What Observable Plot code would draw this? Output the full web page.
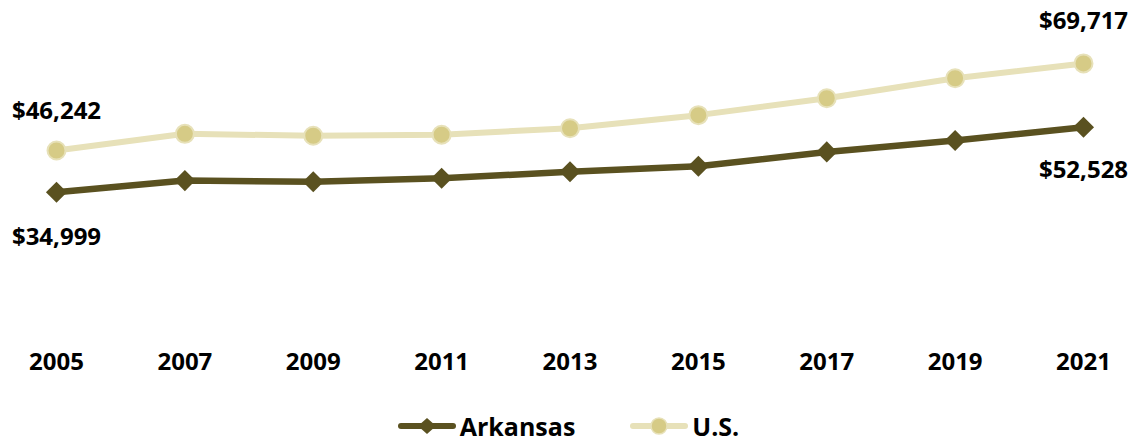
<!DOCTYPE html>
<html>
<head>
<meta charset="utf-8">
<script src="https://cdn.jsdelivr.net/npm/d3@7"></script>
<script src="https://cdn.jsdelivr.net/npm/@observablehq/plot@0.6"></script>
<style>
  html, body { margin: 0; padding: 0; background: #fff; }
  body { width: 1137px; height: 441px; overflow: hidden; font-family: "Open Sans", sans-serif; }
  #legend { position: absolute; top: 412px; left: 0; width: 1137px; display: flex; justify-content: center; gap: 55px; font-weight: 700; font-size: 25px; color: #000; line-height: 28px; }
  .item { display: flex; align-items: center; gap: 4px; }
</style>
</head>
<body>
<div id="chart"></div>
<div id="legend"></div>
<script>
const years = [2005, 2007, 2009, 2011, 2013, 2015, 2017, 2019, 2021];
const arkansas = [34999, 38134, 37823, 38758, 40511, 41995, 45869, 48952, 52528];
const us = [46242, 50740, 50221, 50502, 52250, 55775, 60336, 65712, 69717];
const seriesNames = ["Arkansas", "U.S."];

const arkColor = "#5A5120";
const usLine = "#E7E1B9";
const usFill = "#D6CB86";

const arkData = years.map((y, i) => ({year: y, value: arkansas[i]}));
const usData = years.map((y, i) => ({year: y, value: us[i]}));
const fmt = v => "$" + d3.format(",")(v);

const lblStyle = {fontSize: 24, fontWeight: 700, fill: "#000", fontFamily: "Open Sans", textAnchor: "middle"};

const chart = Plot.plot({
  width: 1137,
  height: 400,
  marginTop: 0, marginBottom: 0, marginLeft: 0, marginRight: 0,
  x: {domain: [2005, 2021], range: [56, 1083], axis: null},
  y: {domain: [0, 80000], range: [321.6, 321.6 - 80000 / 269.5], axis: null},
  marks: [
    Plot.line(usData, {x: "year", y: "value", stroke: usLine, strokeWidth: 6}),
    Plot.dot(usData, {x: "year", y: "value", r: 9, fill: usFill, stroke: usLine, strokeWidth: 2}),
    Plot.line(arkData, {x: "year", y: "value", stroke: arkColor, strokeWidth: 6.5}),
    Plot.dot(arkData, {x: "year", y: "value", symbol: "diamond2", r: 9.5, fill: arkColor, stroke: "none"}),
    Plot.text([usData[0]], {x: "year", y: "value", text: d => fmt(d.value), dy: -39, ...lblStyle}),
    Plot.text([usData[usData.length - 1]], {x: "year", y: "value", text: d => fmt(d.value), dy: -42, ...lblStyle}),
    Plot.text([arkData[0]], {x: "year", y: "value", text: d => fmt(d.value), dy: 45, ...lblStyle}),
    Plot.text([arkData[arkData.length - 1]], {x: "year", y: "value", text: d => fmt(d.value), dy: 43, ...lblStyle}),
    Plot.text(years, {x: d => d, y: () => 0, text: d => String(d), dy: 40, ...lblStyle})
  ]
});
document.getElementById("chart").appendChild(chart);

// legend
const legend = d3.select("#legend");
const items = [
  {name: seriesNames[0], stroke: arkColor, marker: "diamond"},
  {name: seriesNames[1], stroke: usLine, marker: "circle"}
];
items.forEach(it => {
  const div = legend.append("div").attr("class", "item");
  const svg = div.append("svg").attr("width", 58).attr("height", 22);
  svg.append("line").attr("x1", 3).attr("x2", 55).attr("y1", 11).attr("y2", 11)
    .attr("stroke", it.stroke).attr("stroke-width", 6).attr("stroke-linecap", "round");
  if (it.marker === "diamond") {
    svg.append("path").attr("d", "M29,3L38,11L29,19L20,11Z").attr("fill", arkColor);
  } else {
    svg.append("circle").attr("cx", 29).attr("cy", 11).attr("r", 8).attr("fill", usFill).attr("stroke", usLine).attr("stroke-width", 1.5);
  }
  div.append("span").text(it.name);
});
</script>
</body>
</html>
